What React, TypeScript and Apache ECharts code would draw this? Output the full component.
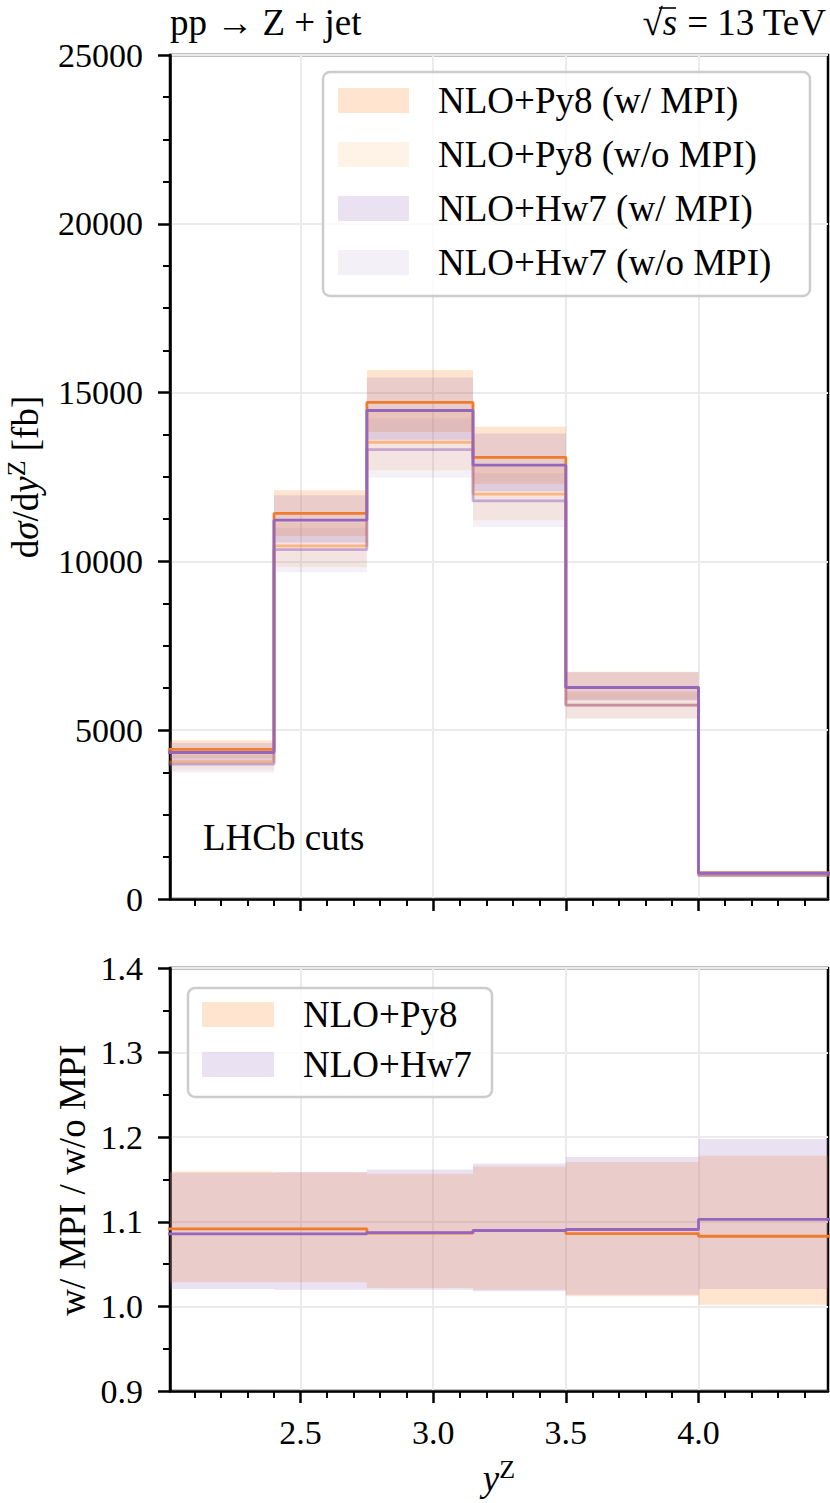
import React, { useEffect, useRef } from 'react';
import * as echarts from 'echarts';

// ---------- data ----------
const EDGES = [2.0, 2.4, 2.75, 3.15, 3.5, 4.0, 4.5];

const PY8_W = [4430, 11420, 14710, 13080, 6270, 770];
const PY8_W_HI = [4700, 12110, 15670, 13990, 6730, 830];
const PY8_W_LO = [4170, 10750, 13830, 12300, 5900, 720];

const PY8_WO = [4060, 10460, 13530, 11990, 5740, 705];
const PY8_WO_HI = [4320, 11130, 14420, 12810, 6140, 760];
const PY8_WO_LO = [3810, 9830, 12700, 11220, 5350, 650];

const HW7_W = [4340, 11220, 14470, 12850, 6265, 768];
const HW7_W_HI = [4620, 11960, 15450, 13790, 6720, 825];
const HW7_W_LO = [4080, 10560, 13600, 12080, 5880, 715];

const HW7_WO = [3995, 10350, 13310, 11790, 5745, 700];
const HW7_WO_HI = [4260, 11000, 14230, 12620, 6150, 755];
const HW7_WO_LO = [3750, 9680, 12475, 11020, 5350, 645];

const R_PY8 = [1.0917, 1.0917, 1.0866, 1.0895, 1.0861, 1.0829];
const R_PY8_HI = [1.1595, 1.1587, 1.1567, 1.1655, 1.1706, 1.178];
const R_PY8_LO = [1.0286, 1.0286, 1.0218, 1.0198, 1.012, 1.002];

const R_HW7 = [1.0857, 1.0857, 1.0873, 1.0897, 1.0909, 1.1028];
const R_HW7_HI = [1.158, 1.1587, 1.1619, 1.169, 1.1766, 1.198];
const R_HW7_LO = [1.0206, 1.0198, 1.0198, 1.0179, 1.0139, 1.0206];

const X_MAJOR = [2.5, 3.0, 3.5, 4.0];
const X_MINOR = [2.1, 2.2, 2.3, 2.4, 2.6, 2.7, 2.8, 2.9, 3.1, 3.2, 3.3, 3.4, 3.6, 3.7, 3.8, 3.9, 4.1, 4.2, 4.3, 4.4];
const X_MIN = 2.008;
const X_MAX = 4.488;

const LEG_TOP = ['NLO+Py8 (w/ MPI)', 'NLO+Py8 (w/o MPI)', 'NLO+Hw7 (w/ MPI)', 'NLO+Hw7 (w/o MPI)'];
const LEG_BOT = ['NLO+Py8', 'NLO+Hw7'];

// ---------- styles ----------
const FONT = 'Liberation Serif';
const FS = 34; // tick labels
const TS = 37; // other text
const ORANGE = '#ef7b2d';
const PURPLE = '#9467bd';
const ORANGE_LIGHT_LINE = 'rgba(255,127,14,0.45)';
const PURPLE_LIGHT_LINE = 'rgba(148,103,189,0.5)';
const OR_BAND = 'rgba(255,127,14,0.2)';
const OR_BAND_L = 'rgba(255,127,14,0.1)';
const PU_BAND = 'rgba(148,103,189,0.2)';
const PU_BAND_L = 'rgba(148,103,189,0.1)';
const GRIDC = '#ebebeb';

function stepData(vals: number[]) {
  return EDGES.map((x, i) => [x, vals[Math.min(i, vals.length - 1)]]);
}
function bandData(lo: number[], hi: number[]) {
  return lo.map((l, i) => [EDGES[i], EDGES[i + 1], l, hi[i]]);
}

function bandSeries(name: string, idx: number, lo: number[], hi: number[], color: string) {
  return {
    type: 'custom',
    name,
    xAxisIndex: idx,
    yAxisIndex: idx,
    clip: true,
    silent: true,
    z: 1,
    itemStyle: { color },
    encode: { x: [0, 1], y: [2, 3] },
    data: bandData(lo, hi),
    renderItem: (params: any, api: any) => {
      const p0 = api.coord([api.value(0), api.value(3)]);
      const p1 = api.coord([api.value(1), api.value(2)]);
      return {
        type: 'rect',
        shape: { x: p0[0], y: p0[1], width: p1[0] - p0[0], height: p1[1] - p0[1] },
        style: { fill: color },
      };
    },
  };
}

function lineSeries(name: string, idx: number, vals: number[], color: string, z: number) {
  return {
    type: 'line',
    name,
    xAxisIndex: idx,
    yAxisIndex: idx,
    step: 'end',
    showSymbol: false,
    symbol: 'none',
    silent: true,
    z,
    lineStyle: { color, width: 2.8 },
    data: stepData(vals),
  };
}

const axisLine = { show: true, onZero: false, lineStyle: { color: '#000', width: 2.5 } };
const labelStyle = { fontSize: FS, fontFamily: FONT, color: '#000' };
const legendText = { fontSize: TS, fontFamily: FONT, color: '#000', padding: [0, 0, 0, 24] };

function mainX(gridIndex: number, labels: boolean) {
  return {
    type: 'value',
    gridIndex,
    min: X_MIN,
    max: X_MAX,
    position: 'bottom',
    axisLine,
    axisTick: { show: true, customValues: X_MAJOR, length: 12, lineStyle: { color: '#000', width: 2.5 } },
    axisLabel: {
      show: labels,
      customValues: X_MAJOR,
      formatter: (v: number) => v.toFixed(1),
      margin: 24,
      ...labelStyle,
    },
    splitLine: { show: true, lineStyle: { color: GRIDC, width: 2 } },
  };
}
function minorX(gridIndex: number) {
  return {
    type: 'value',
    gridIndex,
    min: X_MIN,
    max: X_MAX,
    position: 'bottom',
    axisLine: { show: false },
    axisTick: { show: true, customValues: X_MINOR, length: 7, lineStyle: { color: '#000', width: 2 } },
    axisLabel: { show: false },
    splitLine: { show: false },
  };
}

const rich = {
  n: { fontSize: TS, fontFamily: FONT, fill: '#000' },
  i: { fontSize: TS, fontFamily: FONT, fontStyle: 'italic', fill: '#000' },
  s: { fontSize: 26, fontFamily: FONT, fill: '#000', padding: [0, 0, 18, 0] },
};

function textEl(text: string, x: number, y: number, align: string, extra: any = {}) {
  return {
    type: 'text',
    x,
    y,
    z: 20,
    silent: true,
    ...extra,
    style: {
      text,
      fontSize: TS,
      fontFamily: FONT,
      fill: '#000',
      textAlign: align,
      textVerticalAlign: 'middle',
      rich,
    },
  };
}

export default function App() {
  const ref = useRef<HTMLDivElement>(null);
  useEffect(() => {
    if (!ref.current) return;
    const chart = echarts.init(ref.current, null, { renderer: 'svg' });
    const option: any = {
      animation: false,
      textStyle: { fontFamily: FONT },
      grid: [
        { left: 170, top: 55, width: 658, height: 844, show: true, borderColor: '#000', borderWidth: 2.5, backgroundColor: 'transparent' },
        { left: 170, top: 968, width: 658, height: 423, show: true, borderColor: '#000', borderWidth: 2.5, backgroundColor: 'transparent' },
      ],
      xAxis: [mainX(0, false), mainX(1, true), minorX(0), minorX(1)],
      yAxis: [
        {
          type: 'value',
          gridIndex: 0,
          min: 0,
          max: 25000,
          interval: 5000,
          axisLine,
          axisTick: { show: true, length: 12, lineStyle: { color: '#000', width: 2.5 } },
          minorTick: { show: true, splitNumber: 4, length: 7, lineStyle: { color: '#000', width: 2 } },
          axisLabel: { formatter: (v: number) => String(v), margin: 27, ...labelStyle },
          splitLine: { show: true, lineStyle: { color: GRIDC, width: 2 } },
        },
        {
          type: 'value',
          gridIndex: 1,
          min: 0.9,
          max: 1.4,
          interval: 0.1,
          axisLine,
          axisTick: { show: true, length: 12, lineStyle: { color: '#000', width: 2.5 } },
          minorTick: { show: true, splitNumber: 2, length: 7, lineStyle: { color: '#000', width: 2 } },
          axisLabel: { formatter: (v: number) => v.toFixed(1), margin: 27, ...labelStyle },
          splitLine: { show: true, lineStyle: { color: GRIDC, width: 2 } },
        },
      ],
      legend: [
        {
          data: [
            { name: LEG_TOP[0], itemStyle: { color: OR_BAND } },
            { name: LEG_TOP[1], itemStyle: { color: OR_BAND_L } },
            { name: LEG_TOP[2], itemStyle: { color: PU_BAND } },
            { name: LEG_TOP[3], itemStyle: { color: PU_BAND_L } },
          ],
          orient: 'vertical',
          left: 338,
          top: 82,
          padding: 0,
          itemWidth: 71,
          itemHeight: 25,
          itemGap: 17,
          icon: 'rect',
          selectedMode: false,
          z: 12,
          textStyle: legendText,
        },
        {
          data: [
            { name: LEG_BOT[0], itemStyle: { color: OR_BAND } },
            { name: LEG_BOT[1], itemStyle: { color: PU_BAND } },
          ],
          orient: 'vertical',
          left: 202,
          top: 996,
          padding: 0,
          itemWidth: 72,
          itemHeight: 25,
          itemGap: 13,
          icon: 'rect',
          selectedMode: false,
          z: 12,
          textStyle: legendText,
        },
      ],
      graphic: [
        { type: 'rect', z: 10, silent: true, shape: { x: 323, y: 72, width: 487, height: 224, r: 7 }, style: { fill: 'rgba(255,255,255,0.8)', stroke: '#cccccc', lineWidth: 2.5 } },
        { type: 'rect', z: 10, silent: true, shape: { x: 188, y: 988, width: 304, height: 109, r: 7 }, style: { fill: 'rgba(255,255,255,0.8)', stroke: '#cccccc', lineWidth: 2.5 } },
        textEl('pp → Z + jet', 170, 22, 'left'),
        textEl('{n|√}{i|s}{n| = 13 TeV}', 826, 22, 'right'),
        { type: 'line', z: 20, silent: true, shape: { x1: 659, y1: 8, x2: 676, y2: 8 }, style: { stroke: '#000', lineWidth: 1.6 } },
        textEl('LHCb cuts', 203, 837, 'left'),
        textEl('{n|d}{i|σ}{n|/d}{i|y}{s|Z}{n| [fb]}', 25, 477, 'center', { rotation: Math.PI / 2 }),
        textEl('w/ MPI / w/o MPI', 72, 1180, 'center', { rotation: Math.PI / 2 }),
        textEl('{i|y}{s|Z}', 499, 1478, 'center'),
      ],
      series: [
        bandSeries(LEG_TOP[0], 0, PY8_W_LO, PY8_W_HI, OR_BAND),
        bandSeries(LEG_TOP[1], 0, PY8_WO_LO, PY8_WO_HI, OR_BAND_L),
        bandSeries(LEG_TOP[2], 0, HW7_W_LO, HW7_W_HI, PU_BAND),
        bandSeries(LEG_TOP[3], 0, HW7_WO_LO, HW7_WO_HI, PU_BAND_L),
        lineSeries('Py8 w/ MPI', 0, PY8_W, ORANGE, 3),
        lineSeries('Py8 w/o MPI', 0, PY8_WO, ORANGE_LIGHT_LINE, 3),
        lineSeries('Hw7 w/ MPI', 0, HW7_W, PURPLE, 4),
        lineSeries('Hw7 w/o MPI', 0, HW7_WO, PURPLE_LIGHT_LINE, 5),
        bandSeries(LEG_BOT[0], 1, R_PY8_LO, R_PY8_HI, OR_BAND),
        bandSeries(LEG_BOT[1], 1, R_HW7_LO, R_HW7_HI, PU_BAND),
        lineSeries('Py8 ratio', 1, R_PY8, ORANGE, 3),
        lineSeries('Hw7 ratio', 1, R_HW7, PURPLE, 4),
      ],
    };
    chart.setOption(option);
    return () => chart.dispose();
  }, []);
  return (
    <div
      ref={ref}
      style={{ position: 'absolute', left: 0, top: 0, width: 830, height: 1503, background: '#fff' }}
    />
  );
}
